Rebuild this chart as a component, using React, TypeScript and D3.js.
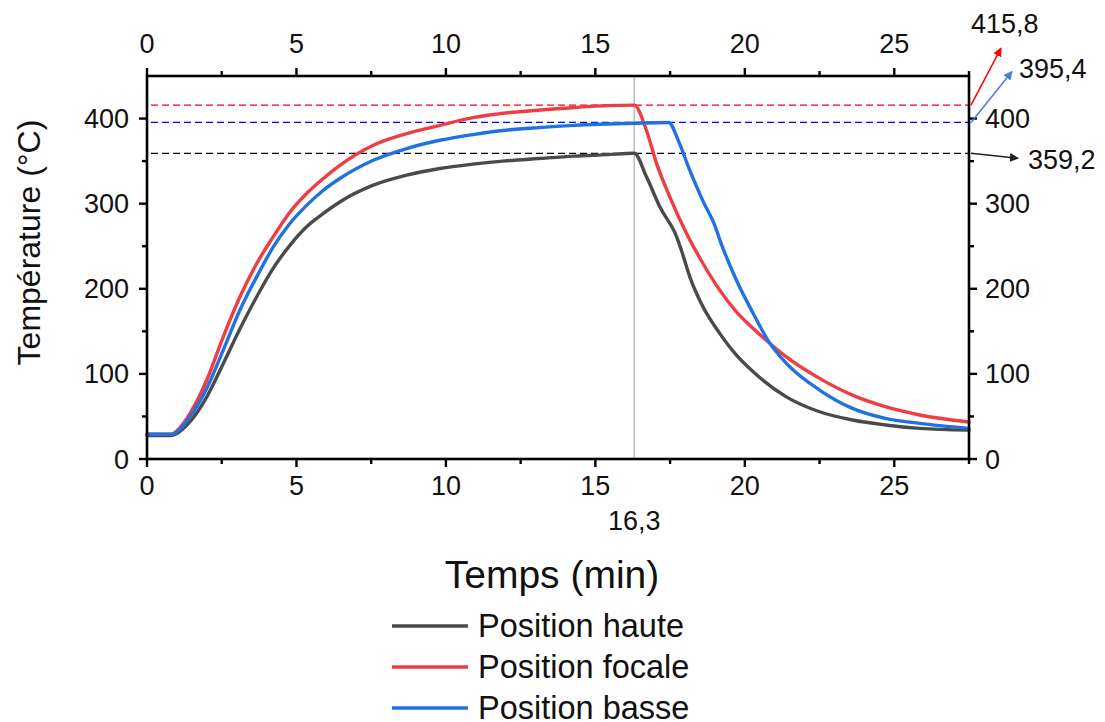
import React from 'react';
import * as d3 from 'd3';

// ---- Data ----
const hauteTime = [0, 0.8, 0.88, 1.44, 2.0, 2.55, 3.11, 3.67, 4.22, 4.78, 5.34, 5.9, 6.45, 7.57, 8.69, 9.8, 10.9, 12.0, 13.1, 14.3, 15.4, 16.3, 16.71, 17.16, 17.72, 17.88, 18.16, 18.6, 19.16, 19.72, 20.28, 21.39, 22.5, 23.6, 24.7, 25.85, 27.5];
const hauteTemp = [27.5, 27.5, 28, 43.8, 73, 112, 153, 190.6, 224, 251, 272.8, 288.5, 302, 321.7, 333.5, 341.3, 346.4, 350.3, 353, 355.8, 357.6, 359.2, 331.5, 296, 261, 245, 214, 178.8, 147.6, 122, 102.5, 73, 55.5, 45.8, 40, 36, 34];

const focaleTime = [0, 0.8, 0.88, 1.44, 2.0, 2.55, 3.11, 3.67, 4.22, 4.78, 5.34, 5.9, 6.45, 7.57, 8.69, 9.8, 10.9, 12.0, 13.1, 14.3, 15.4, 16.3, 16.71, 17.05, 17.49, 18.05, 18.6, 19.16, 19.72, 20.28, 20.84, 21.39, 22.5, 23.6, 24.7, 25.85, 27.5];
const focaleTemp = [29, 29, 30, 53.6, 92.8, 143.6, 190.6, 229.7, 261, 290, 312, 329.6, 345, 368.7, 382.4, 392, 401, 406.6, 409.8, 413, 415.2, 415.8, 386, 347, 308, 265, 229.7, 198.4, 173, 153.4, 135.8, 120, 94.7, 75, 61.4, 51.7, 43.5];

const basseTime = [0, 0.8, 0.88, 1.44, 2.0, 2.55, 3.11, 3.67, 4.22, 4.78, 5.34, 5.9, 6.45, 7.57, 8.69, 9.8, 10.9, 12.0, 13.1, 14.3, 16.3, 17.45, 17.8, 18.16, 18.6, 19.0, 19.2, 19.72, 20.28, 20.84, 21.39, 22.5, 23.6, 24.7, 25.85, 27.5];
const basseTemp = [29, 29, 29.5, 49.7, 83, 128, 175, 214, 249, 276.7, 298, 315.8, 329.6, 351, 364.8, 374.5, 381.2, 386.3, 389.4, 392, 394.5, 395.4, 372, 339, 303, 274, 254, 210, 171, 135.8, 112.4, 81, 59.5, 47.8, 41.9, 36];

const seriesNames = ['Position haute', 'Position focale', 'Position basse'];
const seriesColors = ['#4a4a4a', '#f03c42', '#1f72e0'];

const xMajorTicks = [0, 5, 10, 15, 20, 25];
const xMinorTicks = [2.5, 7.5, 12.5, 17.5, 22.5];
const yMajorTicks = [0, 100, 200, 300, 400];
const yMinorTicks = [50, 150, 250, 350];

const peakValues = [415.8, 395.4, 359.2];
const peakLabels = ['415,8', '395,4', '359,2'];
const peakDashColors = ['#ff0000', '#0000ff', '#000000'];
const peakArrowColors = ['#ff0000', '#4a7fd8', '#222222'];

const markerTime = 16.3;
const markerLabel = '16,3';

const xTitle = 'Temps (min)';
const yTitle = 'Température (°C)';

export default function App() {
  const W = 1105;
  const H = 722;
  const left = 147, right = 969, top = 76, bottom = 459;
  const x = d3.scaleLinear().domain([0, 27.5]).range([left, right]);
  const y = d3.scaleLinear().domain([0, 450]).range([bottom, top]);
  const font = '"Liberation Sans", Arial, sans-serif';

  const series = [
    { t: hauteTime, v: hauteTemp },
    { t: focaleTime, v: focaleTemp },
    { t: basseTime, v: basseTemp },
  ];
  const line = d3
    .line<[number, number]>()
    .x((d) => x(d[0]))
    .y((d) => y(d[1]))
    .curve(d3.curveMonotoneX);

  const axisW = 2.6;
  const major = 8;
  const minor = 5;
  const tickFs = 27;

  // arrow offsets (annotation geometry)
  const arrowEnds = [
    [30, -57],
    [41, -51],
    [47, 5],
  ];
  const labelPos = [
    [971, 33],
    [1019, 78],
    [1028, 169],
  ];

  return (
    <svg
      width={W}
      height={H}
      viewBox={`0 0 ${W} ${H}`}
      style={{ position: 'absolute', left: 0, top: 0, background: '#fff', fontFamily: font }}
    >
      <defs>
        {peakArrowColors.map((c, i) => (
          <marker
            key={i}
            id={`arrow${i}`}
            viewBox="0 0 10 10"
            refX="9"
            refY="5"
            markerWidth="9"
            markerHeight="9"
            markerUnits="userSpaceOnUse"
            orient="auto"
          >
            <path d="M0,0 L10,5 L0,10 z" fill={c} />
          </marker>
        ))}
      </defs>
      <rect x={0} y={0} width={W} height={H} fill="#fff" />

      {/* vertical marker line */}
      <line x1={x(markerTime)} x2={x(markerTime)} y1={top} y2={bottom} stroke="#bdbdbd" strokeWidth={1.5} />

      {/* dashed peak lines */}
      {peakValues.map((v, i) => (
        <line
          key={i}
          x1={left + 4}
          x2={right}
          y1={y(v)}
          y2={y(v)}
          stroke={peakDashColors[i]}
          strokeWidth={1.3}
          strokeDasharray="7,4"
        />
      ))}

      {/* curves */}
      {series.map((s, i) => (
        <path
          key={i}
          d={line(s.t.map((t, j) => [t, s.v[j]] as [number, number])) || ''}
          fill="none"
          stroke={seriesColors[i]}
          strokeWidth={3.4}
          strokeLinejoin="round"
          strokeLinecap="round"
        />
      ))}

      {/* frame */}
      <rect x={left} y={top} width={right - left} height={bottom - top} fill="none" stroke="#000" strokeWidth={axisW} />

      {/* x ticks bottom & top */}
      {xMajorTicks.map((t) => (
        <g key={`xm${t}`}>
          <line x1={x(t)} x2={x(t)} y1={bottom} y2={bottom + major} stroke="#000" strokeWidth={2.4} />
          <line x1={x(t)} x2={x(t)} y1={top} y2={top - major} stroke="#000" strokeWidth={2.4} />
          <text x={x(t)} y={495} textAnchor="middle" fontSize={tickFs} fill="#111">{t}</text>
          <text x={x(t)} y={53} textAnchor="middle" fontSize={tickFs} fill="#111">{t}</text>
        </g>
      ))}
      {[...xMinorTicks, 27.5].map((t) => (
        <g key={`xn${t}`}>
          <line x1={x(t)} x2={x(t)} y1={bottom} y2={bottom + minor} stroke="#000" strokeWidth={2.4} />
          <line x1={x(t)} x2={x(t)} y1={top} y2={top - minor} stroke="#000" strokeWidth={2.4} />
        </g>
      ))}

      {/* y ticks left & right */}
      {yMajorTicks.map((v) => (
        <g key={`ym${v}`}>
          <line x1={left} x2={left - major} y1={y(v)} y2={y(v)} stroke="#000" strokeWidth={2.4} />
          <line x1={right} x2={right + major} y1={y(v)} y2={y(v)} stroke="#000" strokeWidth={2.4} />
          <text x={129} y={y(v) + 9.5} textAnchor="end" fontSize={tickFs} fill="#111">{v}</text>
          <text x={985} y={y(v) + 9.5} textAnchor="start" fontSize={tickFs} fill="#111">{v}</text>
        </g>
      ))}
      {yMinorTicks.map((v) => (
        <g key={`yn${v}`}>
          <line x1={left} x2={left - minor} y1={y(v)} y2={y(v)} stroke="#000" strokeWidth={2.4} />
          <line x1={right} x2={right + minor} y1={y(v)} y2={y(v)} stroke="#000" strokeWidth={2.4} />
        </g>
      ))}

      {/* marker label */}
      <text x={x(markerTime)} y={530} textAnchor="middle" fontSize={tickFs} fill="#111">{markerLabel}</text>

      {/* peak arrows + labels */}
      {peakValues.map((v, i) => (
        <g key={`pk${i}`}>
          <line
            x1={right + 2}
            y1={y(v)}
            x2={right + 2 + arrowEnds[i][0]}
            y2={y(v) + arrowEnds[i][1]}
            stroke={peakArrowColors[i]}
            strokeWidth={1.5}
            markerEnd={`url(#arrow${i})`}
          />
          <text x={labelPos[i][0]} y={labelPos[i][1]} fontSize={tickFs} fill="#111">{peakLabels[i]}</text>
        </g>
      ))}

      {/* axis titles */}
      <text x={552} y={588} textAnchor="middle" fontSize={39} fill="#111">{xTitle}</text>
      <text
        transform={`translate(40, ${(top + bottom) / 2 - 25}) rotate(-90)`}
        textAnchor="middle"
        fontSize={32}
        fill="#111"
      >
        {yTitle}
      </text>

      {/* legend */}
      {seriesNames.map((n, i) => (
        <g key={`lg${i}`}>
          <line x1={392} x2={468} y1={626 + i * 41} y2={626 + i * 41} stroke={seriesColors[i]} strokeWidth={3.4} />
          <text x={478} y={637 + i * 41} fontSize={32.5} fill="#111">{n}</text>
        </g>
      ))}
    </svg>
  );
}
